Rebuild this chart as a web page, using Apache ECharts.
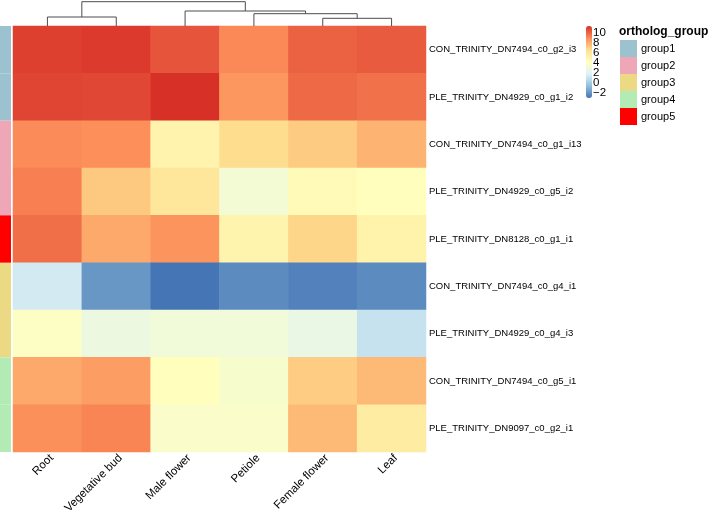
<!DOCTYPE html>
<html>
<head>
<meta charset="utf-8">
<script src="https://cdn.jsdelivr.net/npm/echarts@6/dist/echarts.min.js"></script>
<style>
  html, body { margin: 0; padding: 0; background: #fff; }
  #heat_chart { width: 709px; height: 519px; }
</style>
</head>
<body>
<div id="heat_chart"></div>
<script>
var samples = ['Root', 'Vegetative bud', 'Male flower', 'Petiole', 'Female flower', 'Leaf']
var genes = [
  'CON_TRINITY_DN7494_c0_g2_i3',
  'PLE_TRINITY_DN4929_c0_g1_i2',
  'CON_TRINITY_DN7494_c0_g1_i13',
  'PLE_TRINITY_DN4929_c0_g5_i2',
  'PLE_TRINITY_DN8128_c0_g1_i1',
  'CON_TRINITY_DN7494_c0_g4_i1',
  'PLE_TRINITY_DN4929_c0_g4_i3',
  'CON_TRINITY_DN7494_c0_g5_i1',
  'PLE_TRINITY_DN9097_c0_g2_i1'
]
// one row per gene, columns in sample order
var expr = [
  [11.0, 11.15, 10.45, 9.1, 10.1, 10.3],
  [10.85, 10.8, 11.4, 8.7, 9.9, 9.7],
  [9.05, 8.95, 5.1, 6.7, 7.2, 7.9],
  [9.35, 7.3, 6.1, 3.3, 4.6, 4.3],
  [9.8, 8.2, 8.8, 5.05, 6.9, 5.2],
  [1.4, -1.9, -3.0, -2.3, -2.6, -2.3],
  [4.0, 2.8, 3.1, 3.1, 2.6, 1.0],
  [8.2, 8.5, 4.3, 3.6, 7.15, 7.7],
  [8.9, 9.2, 3.8, 3.8, 7.7, 5.7]
]
var rowGroups = ['group1', 'group1', 'group2', 'group2', 'group5', 'group3', 'group3', 'group4', 'group4']
var groupNames = ['group1', 'group2', 'group3', 'group4', 'group5']
var groupColors = ['#9BC2CE', '#EDA7B7', '#EBD983', '#B3EBB4', '#FF0000']
var colorTicks = [-2, 0, 2, 4, 6, 8, 10]
var palette = ['#4575B4', '#91BFDB', '#E0F3F8', '#FFFFBF', '#FEE090', '#FC8D59', '#D73027']
// column dendrogram, hclust style: negative = leaf, positive = earlier step
var colMerge = [[-1, -2], [-5, -6], [-4, 2], [-3, 3], [1, 4]]
var colHeight = [9, 7.7, 12.3, 15, 24.3]

var font = 'Liberation Sans, Arial, Helvetica, sans-serif'

var heatData = []
expr.forEach(function (row, r) {
  row.forEach(function (v, c) { heatData.push([c, r, v]) })
})

// dendrogram segments
var nodeX = [], nodeH = []
function childPos(k) {
  return k < 0 ? [-k - 1, 0] : [nodeX[k - 1], nodeH[k - 1]]
}
var dendroData = colMerge.map(function (m, i) {
  var a = childPos(m[0]), b = childPos(m[1])
  nodeX.push((a[0] + b[0]) / 2)
  nodeH.push(colHeight[i])
  return [a[0], b[0], a[1], b[1], colHeight[i]]
})

var groupSeries = groupNames.map(function (g, gi) {
  return {
    name: g,
    type: 'bar',
    xAxisIndex: 1,
    yAxisIndex: 1,
    barWidth: '100%',
    barGap: '-100%',
    itemStyle: { color: groupColors[gi] },
    silent: true,
    data: rowGroups.map(function (rg) { return rg === g ? 1 : '-' })
  }
})

var myChart = echarts.init(document.getElementById('heat_chart'))
var option = {
  animation: false,
  textStyle: { fontFamily: font },
  title: {
    text: 'ortholog_group',
    left: 619,
    top: 26,
    padding: 0,
    textStyle: { fontSize: 12, fontWeight: 'bold', color: '#000', fontFamily: font }
  },
  legend: {
    data: groupNames,
    orient: 'vertical',
    left: 620,
    top: 40,
    padding: 0,
    itemGap: 0,
    itemWidth: 17,
    itemHeight: 17,
    icon: 'rect',
    selectedMode: false,
    textStyle: { fontSize: 11, color: '#000', fontFamily: font, padding: [0, 0, 0, -1] }
  },
  visualMap: {
    type: 'continuous',
    seriesIndex: 0,
    min: -3.0,
    max: 11.4,
    calculable: false,
    orient: 'vertical',
    left: 586,
    top: 26,
    padding: 0,
    itemWidth: 6,
    itemHeight: 72,
    text: null,
    inRange: { color: palette }
  },
  grid: [
    { left: 13, top: 26, width: 413, height: 426 },   // heatmap
    { left: 0, top: 26, width: 11, height: 426 },     // annotation strip
    { left: 13, top: 1.7, width: 413, height: 24.3 }, // dendrogram
    { left: 586, top: 26, width: 6, height: 72 }      // colour bar labels
  ],
  xAxis: [
    {
      type: 'category', gridIndex: 0, data: samples,
      axisLine: { show: false }, axisTick: { show: false },
      axisLabel: { rotate: 45, fontSize: 11.5, color: '#000', margin: 0, verticalAlign: 'top', interval: 0 }
    },
    { type: 'value', gridIndex: 1, min: 0, max: 1, show: false },
    { type: 'value', gridIndex: 2, min: -0.5, max: 5.5, show: false },
    { type: 'value', gridIndex: 3, min: 0, max: 1, show: false }
  ],
  yAxis: [
    {
      type: 'category', gridIndex: 0, data: genes, inverse: true, position: 'right',
      axisLine: { show: false }, axisTick: { show: false },
      axisLabel: { fontSize: 9.5, color: '#000', margin: 3, interval: 0 }
    },
    { type: 'category', gridIndex: 1, data: genes, inverse: true, show: false },
    { type: 'value', gridIndex: 2, min: 0, max: 24.3, show: false },
    { type: 'value', gridIndex: 3, min: -3.0, max: 11.4, show: false }
  ],
  series: [
    {
      type: 'heatmap',
      xAxisIndex: 0,
      yAxisIndex: 0,
      data: heatData,
      silent: true
    },
    {
      type: 'custom',
      xAxisIndex: 2,
      yAxisIndex: 2,
      silent: true,
      data: dendroData,
      encode: { x: [0, 1], y: [2, 3, 4] },
      renderItem: function (params, api) {
        var xl = api.value(0), xr = api.value(1)
        var hl = api.value(2), hr = api.value(3), h = api.value(4)
        return {
          type: 'polyline',
          shape: {
            points: [api.coord([xl, hl]), api.coord([xl, h]), api.coord([xr, h]), api.coord([xr, hr])]
          },
          style: { stroke: '#4d4d4d', lineWidth: 1, fill: null }
        }
      }
    },
    {
      // colour bar tick labels
      type: 'custom',
      xAxisIndex: 3,
      yAxisIndex: 3,
      silent: true,
      data: colorTicks.map(function (t) { return [1, t] }),
      renderItem: function (params, api) {
        var t = api.value(1)
        var p = api.coord([1, t])
        return {
          type: 'text',
          x: p[0] + 1,
          y: p[1],
          style: {
            text: t < 0 ? '\u2212' + (-t) : String(t),
            fontSize: 11.5,
            fontFamily: font,
            fill: '#000',
            align: 'left',
            verticalAlign: 'middle'
          }
        }
      }
    }
  ].concat(groupSeries)
}
myChart.setOption(option)
</script>
</body>
</html>
